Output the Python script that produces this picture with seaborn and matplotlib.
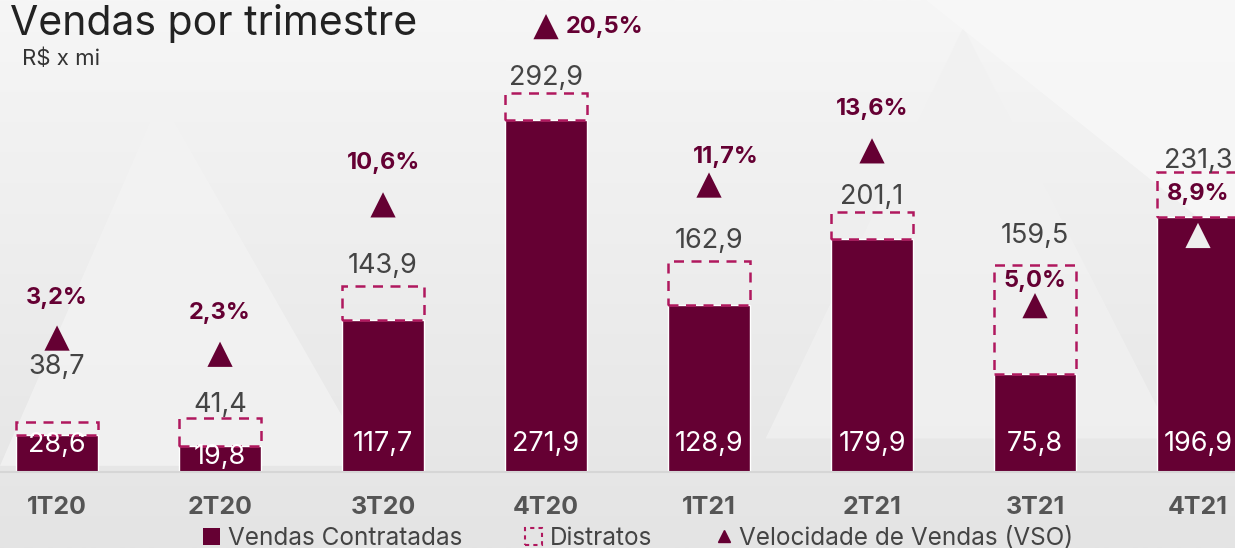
import numpy as np
import matplotlib
matplotlib.use("Agg")
import matplotlib.pyplot as plt
import seaborn as sns
from matplotlib.patches import Patch, Polygon
from matplotlib.lines import Line2D
import pandas as pd

quarters = ['1T20', '2T20', '3T20', '4T20', '1T21', '2T21', '3T21', '4T21']
vendas = [28.6, 19.8, 117.7, 271.9, 128.9, 179.9, 75.8, 196.9]
totais = [38.7, 41.4, 143.9, 292.9, 162.9, 201.1, 159.5, 231.3]
vso = [3.2, 2.3, 10.6, 20.5, 11.7, 13.6, 5.0, 8.9]
vso_labels = ['3,2%', '2,3%', '10,6%', '20,5%', '11,7%', '13,6%', '5,0%', '8,9%']

distratos = [t - v for t, v in zip(totais, vendas)]

def br(x):
    return f'{x:.1f}'.replace('.', ',')

maroon = '#650033'
pink = '#B0185E'
grey_txt = '#444444'

sns.set_theme(style='white')
plt.rcParams['font.family'] = ['Inter', 'DejaVu Sans']

fig = plt.figure(figsize=(12.35, 5.48), dpi=100)
fig.patch.set_facecolor('#eeeeee')

# faint background shapes
bg = fig.add_axes([0, 0, 1, 1], zorder=-5)
grad = np.linspace(0, 1, 256).reshape(-1, 1)
bg.imshow(grad, cmap=matplotlib.colors.LinearSegmentedColormap.from_list('g', ['#f6f6f6', '#e4e4e4']),
          aspect='auto', extent=[0, 1, 0, 1], origin='upper')
for pts, c in [([(0.0, 0.15), (0.13, 0.82), (0.30, 0.15)], '#f3f3f3'),
               ([(0.62, 0.2), (0.78, 0.95), (0.95, 0.2)], '#f1f1f1'),
               ([(0.75, 1.0), (1.0, 1.0), (1.0, 0.55)], '#f8f8f8')]:
    bg.add_patch(Polygon(pts, closed=True, facecolor=c, edgecolor='none', alpha=0.8))
bg.set_xlim(0, 1)
bg.set_ylim(0, 1)
bg.axis('off')

ax = fig.add_axes([0, 76 / 548, 1, 472 / 548])
ax.patch.set_alpha(0)

df = pd.DataFrame({'trimestre': quarters, 'vendas': vendas})
sns.barplot(data=df, x='trimestre', y='vendas', color=maroon, width=0.5,
            saturation=1, ax=ax, zorder=2)
xs = np.arange(len(quarters))
ax.bar(xs, distratos, bottom=vendas, width=0.5, fill=False, edgecolor=pink,
       linestyle=(0, (4, 3)), linewidth=1.8, zorder=3)

ax.set_xlim(-0.35, 7.227)
ax.set_ylim(0, 364.5)
ax.set_xlabel('')
ax.set_ylabel('')
ax.set_yticks([])
for s in ['top', 'left', 'right']:
    ax.spines[s].set_visible(False)
ax.spines['bottom'].set_color('#d6d6d6')
ax.spines['bottom'].set_linewidth(1.5)
ax.tick_params(axis='x', length=0, pad=17)
for lab in ax.get_xticklabels():
    lab.set_fontweight('bold')
    lab.set_fontsize(18)
    lab.set_color('#555555')

# total labels (offset in points above dashed top)
tot_off = [30, 0, 5, 1, 5, 1, 12, -1]
for x, t, o in zip(xs, totais, tot_off):
    ax.annotate(br(t), (x, t), xytext=(0, o), textcoords='offset points',
                ha='center', va='bottom', fontsize=19.5, color=grey_txt, zorder=5)
# values inside bars
for x, v in zip(xs, vendas):
    ax.text(x, min(22.0, v - 8), br(v), ha='center', va='center',
            fontsize=19.5, color='white', zorder=5)

ax2 = ax.twinx()
ax2.set_ylim(-4.24, 21.98)
ax2.set_yticks([])
for s in ax2.spines.values():
    s.set_visible(False)
tri_colors = [maroon] * 7 + ['#eeeeee']
ax2.scatter(xs, vso, marker='^', s=330, c=tri_colors, edgecolors='none', zorder=6)

lab_dx = [0, 0, 0, 36, 12, 0, 0, 0]
lab_dy = [29, 30, 30, 0, 20, 30, 18, 30]
for x, v, l, dx, dy in zip(xs, vso, vso_labels, lab_dx, lab_dy):
    ha = 'left' if dx > 20 else 'center'
    ax2.annotate(l, (x, v), xytext=(dx - (22 if dx > 20 else 0), dy),
                 textcoords='offset points', ha=ha, va='center',
                 fontsize=17, fontweight='bold', color=maroon, zorder=7)

fig.text(0.008, 0.958, 'Vendas por trimestre', fontsize=29.5, color='#222222',
         ha='left', va='center')
fig.text(0.018, 0.893, 'R$ x mi', fontsize=16, color='#333333', ha='left', va='center')

handles = [
    Patch(facecolor=maroon, edgecolor='none', label='Vendas Contratadas'),
    Patch(facecolor='none', edgecolor=pink, linestyle=(0, (2, 2)), linewidth=1.5, label='Distratos'),
    Line2D([], [], marker='^', color=maroon, linestyle='none', markersize=9,
           label='Velocidade de Vendas (VSO)'),
]
leg = fig.legend(handles=handles, loc='center', bbox_to_anchor=(0.517, 0.018), ncol=3,
                 frameon=False, fontsize=17.5, handlelength=0.7, handleheight=0.7,
                 handletextpad=0.3, columnspacing=2.6, labelcolor='#444444')
leg.set_zorder(10)

fig.savefig('out.png', dpi=100, facecolor=fig.get_facecolor())
